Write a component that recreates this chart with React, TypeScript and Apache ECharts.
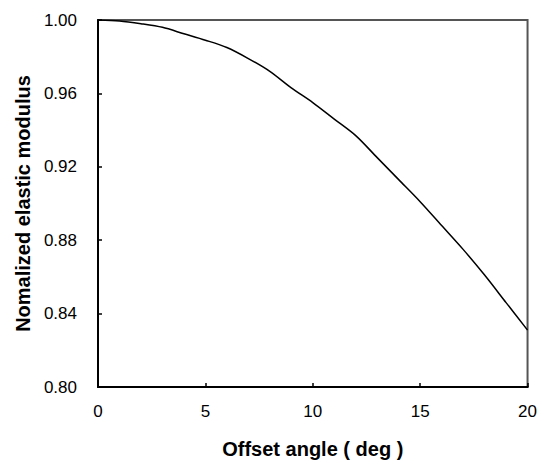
import React, { useEffect, useRef } from "react";
import * as echarts from "echarts";

const angles = [0, 1, 2, 3, 4, 5, 6, 7, 8, 9, 10, 11, 12, 13, 14, 15, 16, 17, 18, 19, 20];
const modulus = [
  1.0, 0.9995, 0.998, 0.996, 0.9925, 0.989, 0.985, 0.979, 0.972, 0.963, 0.955,
  0.946, 0.937, 0.925, 0.913, 0.901, 0.888, 0.875, 0.861, 0.846, 0.831,
];
const xTitle = "Offset angle ( deg )";
const yTitle = "Nomalized elastic modulus";

export default function App() {
  const ref = useRef<HTMLDivElement>(null);
  useEffect(() => {
    if (!ref.current) return;
    const chart = echarts.init(ref.current, undefined, { renderer: "svg" });
    const font = "'Liberation Sans', Arial, sans-serif";
    chart.setOption({
      animation: false,
      backgroundColor: "#ffffff",
      grid: {
        left: 98,
        top: 20,
        right: 11,
        bottom: 75,
        show: true,
        borderColor: "#555555",
        borderWidth: 2,
        backgroundColor: "transparent",
      },
      xAxis: {
        type: "value",
        min: 0,
        max: 20,
        interval: 5,
        name: xTitle,
        nameLocation: "middle",
        nameGap: 52,
        nameTextStyle: { fontFamily: font, fontWeight: "bold", fontSize: 20, color: "#000" },
        axisLine: { show: true, onZero: false, lineStyle: { color: "#000", width: 2 } },
        axisTick: { show: true, inside: true, length: 4, lineStyle: { color: "#000", width: 1.5 } },
        axisLabel: { fontFamily: font, fontSize: 17, color: "#000", margin: 16 },
        splitLine: { show: false },
      },
      yAxis: {
        type: "value",
        min: 0.8,
        max: 1.0,
        interval: 0.04,
        name: yTitle,
        nameLocation: "middle",
        nameGap: 65,
        nameTextStyle: { fontFamily: font, fontWeight: "bold", fontSize: 20, color: "#000" },
        axisLine: { show: true, lineStyle: { color: "#000", width: 2 } },
        axisTick: { show: true, inside: true, length: 4, lineStyle: { color: "#000", width: 1.5 } },
        axisLabel: {
          fontFamily: font,
          fontSize: 17,
          color: "#000",
          margin: 21,
          formatter: (v: number) => v.toFixed(2),
        },
        splitLine: { show: false },
      },
      series: [
        {
          type: "line",
          data: angles.map((a, i) => [a, modulus[i]]),
          showSymbol: false,
          smooth: 0.3,
          lineStyle: { color: "#000", width: 1.5 },
        },
      ],
    });
    return () => chart.dispose();
  }, []);
  return (
    <div
      ref={ref}
      style={{ position: "absolute", left: 0, top: 0, width: 540, height: 464 }}
    />
  );
}
